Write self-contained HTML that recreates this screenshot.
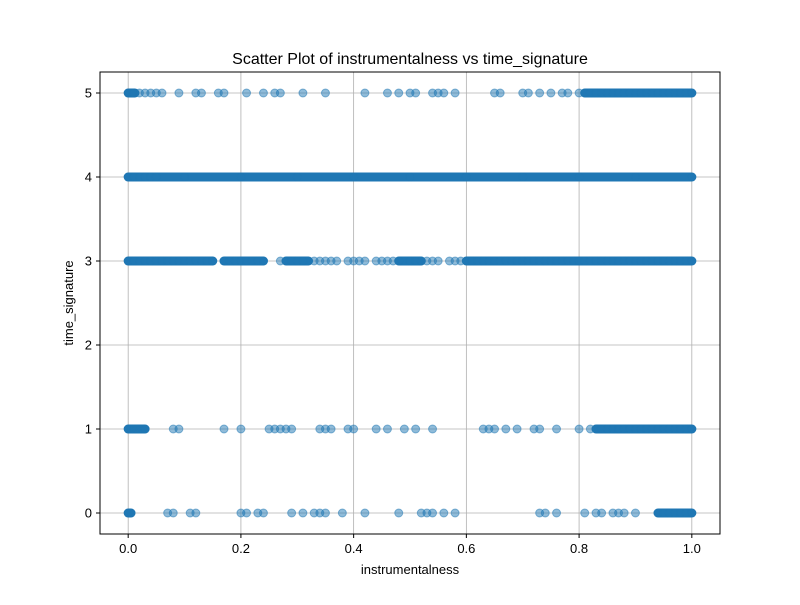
<!DOCTYPE html>
<html><head><meta charset="utf-8"><style>
body{margin:0;background:#fff}
svg text{font-family:"Liberation Sans","DejaVu Sans",sans-serif;fill:#000}
</style></head><body>
<svg id="chart" width="800" height="600">
<rect width="800" height="600" fill="#fff"/>
<text x="410" y="64" font-size="16" text-anchor="middle">Scatter Plot of instrumentalness vs time_signature</text>
<g id="grid"></g>
<g id="pts"></g>
<rect x="100" y="72" width="620" height="462" fill="none" stroke="#000" stroke-width="1"/>
<g id="ticks"></g>
<text x="410" y="574" font-size="13" text-anchor="middle">instrumentalness</text>
<text transform="translate(73,303) rotate(-90)" font-size="13" text-anchor="middle">time_signature</text>
</svg>
<script>
const xTicks=[0,0.2,0.4,0.6,0.8,1.0];
const xTickLabels=["0.0","0.2","0.4","0.6","0.8","1.0"];
const yTicks=[0,1,2,3,4,5];
const yTickLabels=["0","1","2","3","4","5"];
const row5=[0,0.002,0.004,0.006,0.008,0.01,0.02,0.03,0.04,0.05,0.06,0.09,0.12,0.13,0.16,0.17,0.21,0.24,0.26,0.27,0.31,0.35,0.42,0.46,0.48,0.5,0.51,0.54,0.55,0.56,0.58,0.65,0.66,0.7,0.71,0.73,0.75,0.77,0.78,0.8,0.81,0.82,0.83,0.84,0.85,0.86,0.87,0.88,0.89,0.9,0.91,0.92,0.93,0.94,0.95,0.96,0.97,0.98,0.99,1.0];
const row4=[0,0.01,0.02,0.03,0.04,0.05,0.1,0.2,0.3,0.4,0.5,0.6,0.7,0.8,0.9,1.0];
const row3=[0,0.01,0.02,0.03,0.04,0.05,0.06,0.07,0.08,0.09,0.1,0.11,0.12,0.13,0.14,0.15,0.17,0.18,0.19,0.2,0.21,0.22,0.23,0.24,0.27,0.28,0.29,0.3,0.31,0.33,0.34,0.35,0.36,0.37,0.39,0.4,0.41,0.42,0.44,0.45,0.46,0.47,0.48,0.5,0.51,0.52,0.53,0.54,0.55,0.57,0.58,0.59,0.6,0.61,0.62,0.63,0.64,0.65,0.66,0.67,0.68,0.69,0.7,0.71,0.72,0.73,0.74,0.75,0.76,0.77,0.78,0.79,0.8,0.81,0.82,0.83,0.84,0.85,0.86,0.87,0.88,0.89,0.9,0.91,0.92,0.93,0.94,0.95,0.96,0.97,0.98,0.99,1.0];
const row1=[0,0.005,0.01,0.015,0.02,0.025,0.03,0.08,0.09,0.17,0.2,0.25,0.26,0.27,0.28,0.29,0.34,0.35,0.36,0.39,0.4,0.44,0.46,0.49,0.51,0.54,0.63,0.64,0.65,0.67,0.69,0.72,0.73,0.76,0.8,0.82,0.83,0.84,0.85,0.86,0.87,0.88,0.89,0.9,0.91,0.92,0.93,0.94,0.95,0.96,0.97,0.98,0.99,1.0];
const row0=[0,0.005,0.07,0.08,0.11,0.12,0.2,0.21,0.23,0.24,0.29,0.31,0.33,0.34,0.35,0.38,0.42,0.48,0.52,0.53,0.54,0.56,0.58,0.73,0.74,0.76,0.81,0.83,0.84,0.86,0.87,0.88,0.9,0.94,0.95,0.96,0.97,0.98,0.99,1.0];
// dense (fully overlapped) spans per row: [y, xStart, xEnd]
const denseSpans=[[5,0,0.012],[5,0.81,1.0],[4,0,1.0],[3,0,0.15],[3,0.17,0.24],[3,0.28,0.32],[3,0.48,0.52],[3,0.6,1.0],[1,0,0.03],[1,0.83,1.0],[0,0,0.005],[0,0.94,1.0]];
const rows=[[5,row5],[4,row4],[3,row3],[1,row1],[0,row0]];
const X=v=>100+(v+0.05)/1.1*620;
const Y=v=>534-(v+0.25)/5.5*462;
const NS="http://www.w3.org/2000/svg";
const g=document.getElementById('grid'),p=document.getElementById('pts'),t=document.getElementById('ticks');
function mk(tag,at,parent){const e=document.createElementNS(NS,tag);for(const k in at)e.setAttribute(k,at[k]);parent.appendChild(e);return e;}
xTicks.forEach((v,i)=>{
 const l=mk('line',{x1:X(v),x2:X(v),y1:72,y2:534,stroke:'#b0b0b0','stroke-width':0.8},g);
 
 
 mk('line',{x1:X(v),x2:X(v),y1:534,y2:538,stroke:'#000'},t);
 const tx=mk('text',{x:X(v),y:553,'font-size':13,'text-anchor':'middle'},t);
 tx.textContent=xTickLabels[i];
 
 
});
yTicks.forEach((v,i)=>{
 const l=mk('line',{x1:100,x2:720,y1:Y(v),y2:Y(v),stroke:'#b0b0b0','stroke-width':0.8},g);
 
 
 mk('line',{x1:96,x2:100,y1:Y(v),y2:Y(v),stroke:'#000'},t);
 const tx=mk('text',{x:92,y:Y(v)+4.5,'font-size':13,'text-anchor':'end'},t);
 tx.textContent=yTickLabels[i];
 
 
});
denseSpans.forEach(([y,a,b])=>{
 const r=mk('rect',{x:X(a)-4.5,y:Y(y)-4.5,width:X(b)-X(a)+9,height:9,rx:4.5,fill:'#1f77b4'},p);
 
 
});
rows.forEach(([y,xs])=>xs.forEach(x=>{
 const c=mk('circle',{cx:X(x),cy:Y(y),r:4,fill:'#1f77b4','fill-opacity':0.5,stroke:'#1f77b4','stroke-opacity':0.5,'stroke-width':1},p);
 
 
}));
</script>
</body></html>
